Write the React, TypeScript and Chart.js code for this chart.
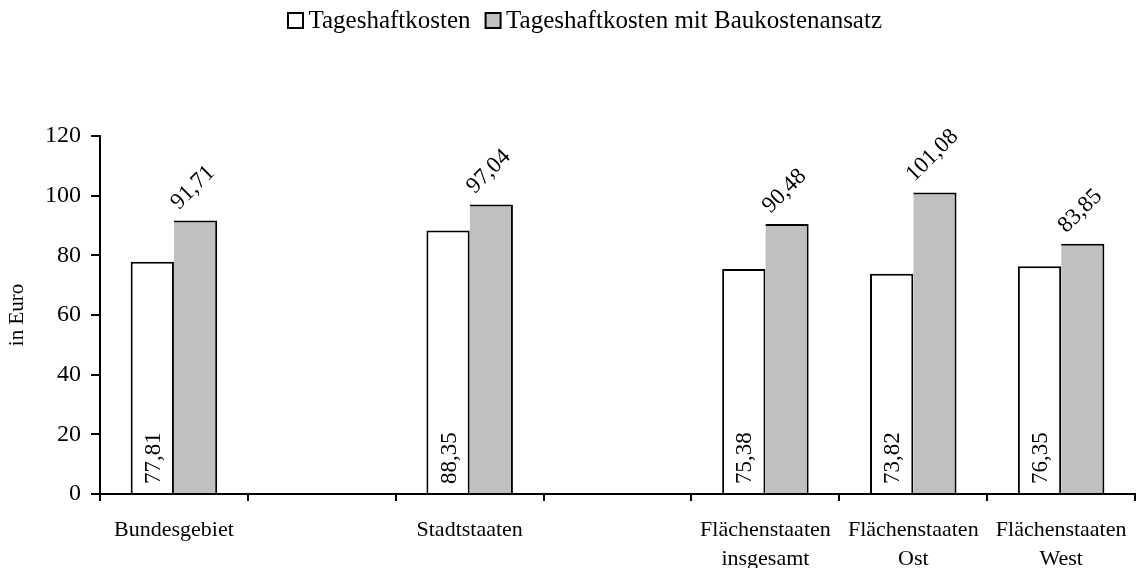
import React, { useEffect, useRef } from 'react';
import { Chart, registerables } from 'chart.js';

Chart.register(...registerables);

const FONT = '"Liberation Serif", "Times New Roman", serif';

const categories: (string | string[])[] = [
  'Bundesgebiet',
  '',
  'Stadtstaaten',
  '',
  ['Flächenstaaten', 'insgesamt'],
  ['Flächenstaaten', 'Ost'],
  ['Flächenstaaten', 'West'],
];
const seriesNames = ['Tageshaftkosten', 'Tageshaftkosten mit Baukostenansatz'];
const tageshaftkosten: (number | null)[] = [77.81, null, 88.35, null, 75.38, 73.82, 76.35];
const mitBaukostenansatz: (number | null)[] = [91.71, null, 97.04, null, 90.48, 101.08, 83.85];
const yMin = 0;
const yMax = 120;
const yStep = 20;

const fmt = (v: number) => v.toFixed(2).replace('.', ',');

const valueLabels = {
  id: 'valueLabels',
  afterDatasetsDraw(chart: any) {
    const ctx = chart.ctx as CanvasRenderingContext2D;
    ctx.save();
    ctx.fillStyle = '#000';
    const size = 23;
    ctx.font = `${size}px ${FONT}`;
    chart.data.datasets.forEach((ds: any, di: number) => {
      const meta = chart.getDatasetMeta(di);
      meta.data.forEach((el: any, i: number) => {
        const v = ds.data[i];
        if (v == null) return;
        const t = fmt(v);
        const { x, y, base } = el.getProps(['x', 'y', 'base'], true);
        ctx.save();
        if (di === 0) {
          ctx.translate(x + 7.5, base - 9);
          ctx.rotate(-Math.PI / 2);
          ctx.textAlign = 'left';
          ctx.textBaseline = 'alphabetic';
          ctx.fillText(t, 0, 0);
        } else {
          const w = ctx.measureText(t).width;
          const h = size * 0.68;
          const off = 9 + (w / 2 + h / 2) / Math.SQRT2;
          ctx.translate(x - 2.5, y - off);
          ctx.rotate(-Math.PI / 4);
          ctx.textAlign = 'center';
          ctx.textBaseline = 'middle';
          ctx.fillText(t, 0, 0);
        }
        ctx.restore();
      });
    });
    ctx.restore();
  },
};

const topLegend = {
  id: 'topLegend',
  afterDraw(chart: any) {
    const ctx = chart.ctx as CanvasRenderingContext2D;
    ctx.save();
    ctx.font = `25px ${FONT}`;
    const items = chart.data.datasets.map((ds: any) => ({ text: ds.label, fill: ds.backgroundColor }));
    const box = 15;
    const gapText = 5.5;
    const gapItem = 15;
    const widths = items.map((it: any) => ctx.measureText(it.text).width);
    const total =
      items.reduce((s: number, _it: any, i: number) => s + box + gapText + widths[i], 0) +
      gapItem * (items.length - 1);
    let x = 585 - total / 2;
    items.forEach((it: any, i: number) => {
      ctx.fillStyle = it.fill;
      ctx.fillRect(x, 13, box, box);
      ctx.strokeStyle = '#000';
      ctx.lineWidth = 2;
      ctx.strokeRect(x, 13, box, box);
      ctx.fillStyle = '#000';
      ctx.textBaseline = 'middle';
      ctx.textAlign = 'left';
      ctx.fillText(it.text, x + box + gapText, 21.5);
      x += box + gapText + widths[i] + gapItem;
    });
    ctx.restore();
  },
};

export default function App() {
  const ref = useRef<HTMLCanvasElement | null>(null);

  useEffect(() => {
    if (!ref.current) return;
    const chart = new Chart(ref.current, {
      type: 'bar',
      data: {
        labels: categories,
        datasets: [
          {
            label: seriesNames[0],
            data: tageshaftkosten,
            backgroundColor: '#FFFFFF',
            borderColor: '#000000',
            borderWidth: { top: 2, right: 2, bottom: 0, left: 2 },
            categoryPercentage: 0.585,
            barPercentage: 1,
          },
          {
            label: seriesNames[1],
            data: mitBaukostenansatz,
            backgroundColor: '#C0C0C0',
            borderColor: '#000000',
            borderWidth: { top: 2, right: 2, bottom: 0, left: 0 },
            categoryPercentage: 0.585,
            barPercentage: 1,
          },
        ],
      } as any,
      options: {
        responsive: false,
        animation: false,
        devicePixelRatio: 1,
        layout: { padding: { top: 136, left: 0, right: 0, bottom: 0 } },
        plugins: {
          legend: { display: false },
          tooltip: { enabled: false },
        },
        scales: {
          x: {
            grid: {
              display: true,
              drawOnChartArea: false,
              drawTicks: true,
              tickLength: 7,
              color: '#000',
              lineWidth: 2,
              offset: true,
            },
            border: { display: true, color: '#000', width: 2 },
            ticks: {
              color: '#000',
              font: { family: FONT, size: 22, lineHeight: 1.32 },
              padding: 14.5,
              maxRotation: 0,
              minRotation: 0,
              autoSkip: false,
            },
            afterFit: (s: any) => {
              s.height = 74;
            },
          },
          y: {
            min: yMin,
            max: yMax,
            grid: {
              drawOnChartArea: false,
              drawTicks: true,
              tickLength: 9,
              color: '#000',
              lineWidth: 2,
            },
            border: { display: true, color: '#000', width: 2 },
            ticks: {
              stepSize: yStep,
              color: '#000',
              font: { family: FONT, size: 24 },
              padding: 10,
            },
            title: {
              display: true,
              text: 'in Euro',
              color: '#000',
              font: { family: FONT, size: 21 },
              padding: { top: 5, bottom: 0 },
            },
            afterFit: (s: any) => {
              s.width = 100;
            },
          },
        },
      } as any,
      plugins: [valueLabels, topLegend],
    });
    return () => chart.destroy();
  }, []);

  return (
    <div
      style={{
        position: 'fixed',
        left: 0,
        top: 0,
        width: 1137,
        height: 568,
        overflow: 'hidden',
        background: '#fff',
      }}
    >
      <canvas ref={ref} width={1141} height={568} style={{ display: 'block' }} />
    </div>
  );
}
